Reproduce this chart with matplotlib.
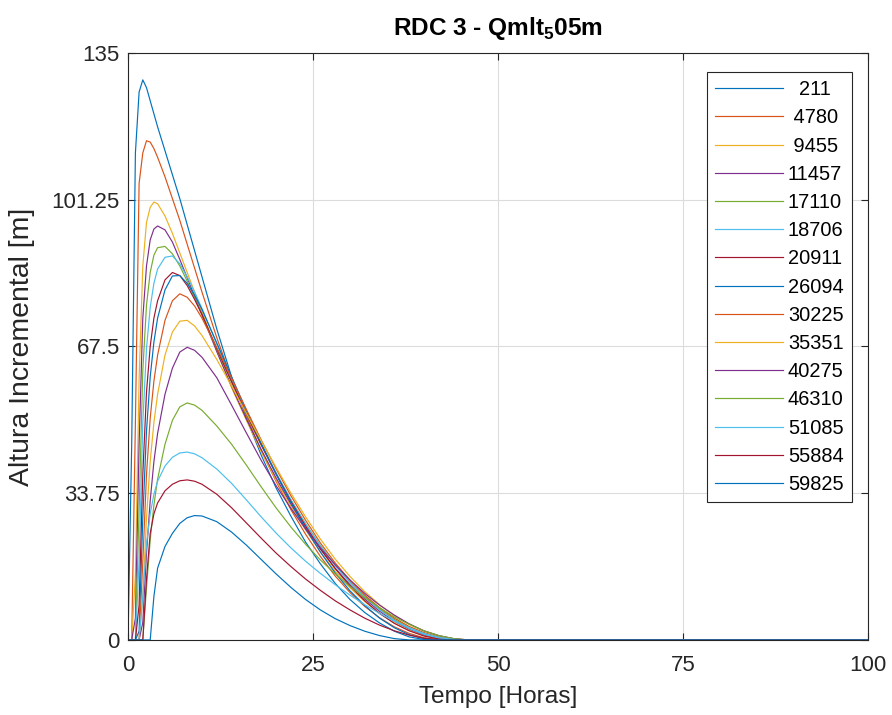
import matplotlib
matplotlib.use("Agg")
import matplotlib.pyplot as plt

plt.rcParams['font.family'] = ['Liberation Sans', 'DejaVu Sans']
plt.rcParams['mathtext.fontset'] = 'custom'
plt.rcParams['mathtext.rm'] = 'Liberation Sans'
plt.rcParams['mathtext.bf'] = 'Liberation Sans:bold'

# time axis (hours)
tempo = [0, 0.5, 1, 1.5, 2, 2.5, 3, 3.5, 4, 5, 6, 7, 8, 9, 10, 12, 14, 16, 18, 20,
         22, 24, 26, 28, 30, 32, 34, 36, 38, 40, 42, 44, 46, 48, 100]

# incremental height (m) for each section
h_211 = [0, 45, 112, 126, 128.8, 127, 124, 121, 118, 112.5, 107, 101.5, 95.5, 89.5, 83.5,
         71.5, 60.5, 51, 42.5, 35, 28.5, 22.5, 17.5, 13, 9.3, 6.3, 3.9, 2, 0.7, 0.1, 0, 0, 0, 0, 0]
h_4780 = [0, 0, 50, 105, 112, 114.8, 114.5, 113, 111, 106.5, 101.5, 96.5, 91, 85.5, 80,
          69.5, 60, 51.5, 43.5, 36.5, 30, 24.3, 19.2, 14.7, 10.9, 7.7, 5.1, 3, 1.5, 0.5, 0.1, 0, 0, 0, 0]
h_9455 = [0, 0, 15, 60, 86, 96, 99.5, 100.7, 100.3, 97.5, 93.5, 89, 84.5, 80, 75.5,
          66.5, 58, 50.5, 43.3, 36.8, 30.8, 25.3, 20.3, 15.8, 12, 8.8, 6.1, 3.9, 2.2, 1, 0.3, 0, 0, 0, 0]
h_11457 = [0, 0, 5, 45, 74, 86, 92, 94.5, 95.2, 94.3, 91.5, 87.5, 83.3, 79, 74.8,
           66.3, 58.3, 50.8, 43.8, 37.3, 31.3, 25.8, 20.9, 16.5, 12.7, 9.4, 6.6, 4.3, 2.5, 1.2, 0.4, 0.1, 0, 0, 0]
h_17110 = [0, 0, 0, 30, 62, 77, 84.5, 88.5, 90.2, 90.5, 88.8, 86, 82.5, 78.7, 74.8,
           66.8, 59.2, 51.8, 44.8, 38.3, 32.2, 26.7, 21.7, 17.2, 13.3, 10, 7.1, 4.7, 2.8, 1.4, 0.5, 0.1, 0, 0, 0]
h_18706 = [0, 0, 0, 18, 50, 67, 76.5, 82, 85.3, 88, 88.3, 86.5, 83.5, 80, 76.2,
           68, 60, 52.3, 45.1, 38.5, 32.3, 26.7, 21.6, 17.1, 13.2, 9.8, 6.9, 4.5, 2.6, 1.3, 0.4, 0.1, 0, 0, 0]
h_20911 = [0, 0, 0, 8, 38, 57, 67.5, 74, 78, 82.8, 84.5, 83.8, 81.5, 78.3, 74.8,
           67, 59.4, 52, 44.9, 38.2, 31.9, 26.2, 21, 16.4, 12.4, 9, 6.1, 3.8, 2.1, 0.9, 0.2, 0, 0, 0, 0]
h_26094 = [0, 0, 0, 2, 28, 48, 60.5, 68.5, 74, 80.5, 83.7, 83.8, 82, 79.3, 76,
           68.3, 60.5, 52.7, 45.2, 38.2, 31.6, 25.6, 20.2, 15.4, 11.3, 7.9, 5, 2.8, 1.2, 0.3, 0, 0, 0, 0, 0]
h_30225 = [0, 0, 0, 0, 18, 38, 51, 59.5, 65.5, 73.5, 78, 79.6, 78.8, 76.8, 74,
           67.2, 60.2, 53, 46, 39.4, 33.2, 27.5, 22.3, 17.7, 13.7, 10.3, 7.4, 5, 3.1, 1.7, 0.7, 0.2, 0, 0, 0]
h_35351 = [0, 0, 0, 0, 10, 28, 41, 50, 56.5, 65.5, 70.8, 73.3, 73.5, 72.2, 70,
           64.5, 58.4, 52.1, 45.8, 39.7, 33.8, 28.3, 23.2, 18.6, 14.6, 11.1, 8.1, 5.6, 3.6, 2, 0.9, 0.3, 0, 0, 0]
h_40275 = [0, 0, 0, 0, 4, 20, 32, 41, 47.5, 56.5, 62.5, 66.2, 67.3, 66.6, 65,
           60.3, 54, 47.6, 41.3, 35.5, 30.3, 25.5, 21.2, 17.3, 13.8, 10.7, 8, 5.7, 3.7, 2.1, 1, 0.3, 0, 0, 0]
h_46310 = [0, 0, 0, 0, 0, 12, 23, 31, 37, 45, 50.5, 53.6, 54.5, 54, 52.8,
           49.2, 45, 40.2, 35.2, 30.4, 26, 22, 18.4, 15.2, 12.3, 9.7, 7.4, 5.3, 3.6, 2.1, 1, 0.3, 0, 0, 0]
h_51085 = [0, 0, 0, 0, 10, 22, 29, 33.5, 36.5, 40, 42, 43, 43.2, 42.8, 41.9,
           39.3, 36, 32.2, 28.3, 24.6, 21.2, 18.1, 15.3, 12.7, 10.3, 8.1, 6.1, 4.3, 2.8, 1.5, 0.6, 0.1, 0, 0, 0]
h_55884 = [0, 0, 0, 0, 0, 14, 24.5, 29, 31.5, 34.3, 35.8, 36.6, 36.8, 36.5, 35.8,
           33.5, 30.4, 26.9, 23.4, 20, 16.9, 14, 11.4, 9, 6.9, 5, 3.4, 2.1, 1.1, 0.4, 0, 0, 0, 0, 0]
h_59825 = [0, 0, 0, 0, 0, 0, 0, 10, 16.5, 21.5, 24.5, 26.8, 28.1, 28.6, 28.5,
           27.2, 24.8, 21.8, 18.5, 15.2, 12.1, 9.3, 6.9, 4.9, 3.3, 2, 1, 0.3, 0, 0, 0, 0, 0, 0, 0]

secoes = ['211', '4780', '9455', '11457', '17110', '18706', '20911', '26094',
          '30225', '35351', '40275', '46310', '51085', '55884', '59825']
alturas = [h_211, h_4780, h_9455, h_11457, h_17110, h_18706, h_20911, h_26094,
           h_30225, h_35351, h_40275, h_46310, h_51085, h_55884, h_59825]

# matlab default line colors
cores = ['#0072BD', '#D95319', '#EDB120', '#7E2F8E', '#77AC30', '#4DBEEE', '#A2142F']

yticks = [0, 33.75, 67.5, 101.25, 135]
ytick_labels = ['0', '33.75', '67.5', '101.25', '135']
xticks = [0, 25, 50, 75, 100]

fig = plt.figure(figsize=(8.92, 7.15), dpi=100)
ax = fig.add_axes([0.1435, 0.105, 0.8295, 0.821])

for i in range(len(secoes)):
    # pad shorter labels so the text looks centred like in matlab
    lab = ' ' * (5 - len(secoes[i])) + secoes[i]
    ax.plot(tempo, alturas[i], color=cores[i % 7], lw=0.85, label=lab)

ax.set_xlim(0, 100)
ax.set_ylim(0, 135)
ax.set_xticks(xticks)
ax.set_yticks(yticks)
ax.set_yticklabels(ytick_labels)
ax.grid(True, color='#dcdcdc', lw=0.8)
ax.set_axisbelow(True)
ax.tick_params(direction='in', length=5, width=0.8, labelsize=16, colors='#262626',
               top=True, right=True, pad=6)
ax.tick_params(axis='x', pad=11)
for s in ax.spines.values():
    s.set_color('#262626')
    s.set_linewidth(0.8)

ax.set_xlabel('Tempo [Horas]', fontsize=17.6, color='#262626', labelpad=7)
ax.set_ylabel('Altura Incremental [m]', fontsize=20.5, color='#262626', labelpad=12)
ax.set_title(r'RDC 3 - Qmlt$_{\mathbf{5}}$05m', fontsize=17.6, fontweight='bold', pad=13)

leg = ax.legend(loc='upper right', bbox_to_anchor=(0.978, 0.967), borderaxespad=0,
                fontsize=14.4, handlelength=3.4, handletextpad=0.25, labelspacing=0.46,
                borderpad=0.4, fancybox=False, framealpha=1, edgecolor='#262626')
leg.get_frame().set_linewidth(0.8)

fig.savefig('out.png', dpi=100)
